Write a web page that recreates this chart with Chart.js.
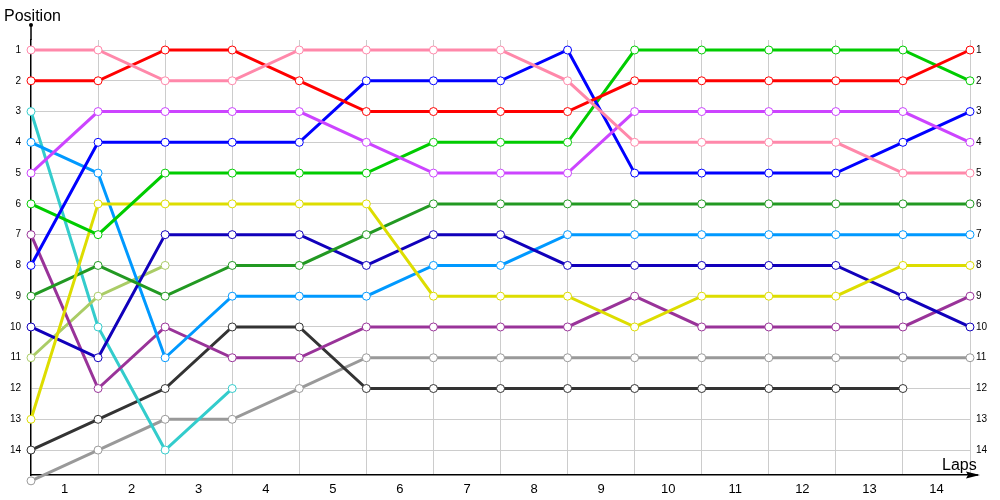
<!DOCTYPE html>
<html>
<head>
<meta charset="utf-8">
<script src="https://cdn.jsdelivr.net/npm/chart.js@4.4.1/dist/chart.umd.min.js"></script>
<style>
  body { margin: 0; background: #fff; }
</style>
</head>
<body>
<canvas id="lapChart" width="1000" height="500"></canvas>
<script>
// vueltas (eje x) y etiquetas
const laps = [0, 1, 2, 3, 4, 5, 6, 7, 8, 9, 10, 11, 12, 13, 14];
const lapLabels = ['1', '2', '3', '4', '5', '6', '7', '8', '9', '10', '11', '12', '13', '14'];
const positionLabels = ['1', '2', '3', '4', '5', '6', '7', '8', '9', '10', '11', '12', '13', '14'];

// posiciones por piloto, vuelta 0..14
const pinkPos   = [1, 1, 2, 2, 1, 1, 1, 1, 2, 4, 4, 4, 4, 5, 5];
const redPos    = [2, 2, 1, 1, 2, 3, 3, 3, 3, 2, 2, 2, 2, 2, 1];
const violetPos = [5, 3, 3, 3, 3, 4, 5, 5, 5, 3, 3, 3, 3, 3, 4];
const bluePos   = [8, 4, 4, 4, 4, 2, 2, 2, 1, 5, 5, 5, 5, 4, 3];
const greenPos  = [6, 7, 5, 5, 5, 5, 4, 4, 4, 1, 1, 1, 1, 1, 2];
const yellowPos = [13, 6, 6, 6, 6, 6, 9, 9, 9, 10, 9, 9, 9, 8, 8];
const forestPos = [9, 8, 9, 8, 8, 7, 6, 6, 6, 6, 6, 6, 6, 6, 6];
const indigoPos = [10, 11, 7, 7, 7, 8, 7, 7, 8, 8, 8, 8, 8, 9, 10];
const skyPos    = [4, 5, 11, 9, 9, 9, 8, 8, 7, 7, 7, 7, 7, 7, 7];
const plumPos   = [7, 12, 10, 11, 11, 10, 10, 10, 10, 9, 10, 10, 10, 10, 9];
const olivePos  = [11, 9, 8];
const cyanPos   = [3, 10, 14, 12];
const darkPos   = [14, 13, 12, 10, 10, 12, 12, 12, 12, 12, 12, 12, 12, 12];
const grayPos   = [15, 14, 13, 13, 12, 11, 11, 11, 11, 11, 11, 11, 11, 11, 11];

const series = [
    { data: pinkPos,   color: '#FF88AA' },
    { data: redPos,    color: '#FF0000' },
    { data: violetPos, color: '#CC44FF' },
    { data: bluePos,   color: '#0000FF' },
    { data: greenPos,  color: '#00CC00' },
    { data: yellowPos, color: '#DDDD00' },
    { data: forestPos, color: '#229922' },
    { data: indigoPos, color: '#1100BB' },
    { data: skyPos,    color: '#0099FF' },
    { data: plumPos,   color: '#993399' },
    { data: olivePos,  color: '#AACC66' },
    { data: cyanPos,   color: '#33CCCC' },
    { data: darkPos,   color: '#333333' },
    { data: grayPos,   color: '#999999' }
];

const fontFamily = '"Liberation Sans", Arial, sans-serif';

// flechas, puntos de los ejes y textos "Position" / "Laps"
const axisDecor = {
    id: 'axisDecor',
    afterDraw(chart) {
        const { ctx, chartArea } = chart;
        const { left, right, top, bottom } = chartArea;
        ctx.save();
        ctx.strokeStyle = '#000';
        ctx.fillStyle = '#000';
        ctx.lineWidth = 1.5;
        ctx.beginPath();
        ctx.moveTo(left, top);
        ctx.lineTo(left, 25);
        ctx.moveTo(right, bottom);
        ctx.lineTo(978, bottom);
        ctx.stroke();
        ctx.beginPath();
        ctx.arc(left, 25, 2, 0, Math.PI * 2);
        ctx.fill();
        ctx.beginPath();
        ctx.moveTo(980, bottom);
        ctx.lineTo(966, bottom - 3.5);
        ctx.lineTo(968, bottom);
        ctx.lineTo(966, bottom + 3.5);
        ctx.closePath();
        ctx.fill();
        ctx.font = '16px ' + fontFamily;
        ctx.textBaseline = 'alphabetic';
        ctx.fillText('Position', 4, 21);
        ctx.fillText('Laps', 942, 470);
        ctx.restore();
    }
};

const yTicks = scale => { scale.ticks = positionLabels.map((l, i) => ({ value: i + 1 })); };

new Chart(document.getElementById('lapChart'), {
    type: 'line',
    data: {
        datasets: series.map(s => ({
            data: s.data.map((p, i) => ({ x: laps[i], y: p })),
            borderColor: s.color,
            borderWidth: 3,
            pointRadius: 4,
            pointHoverRadius: 7, // margen para que el punto en la posición 15 se dibuje
            pointBorderWidth: 1,
            pointBackgroundColor: '#fff',
            pointBorderColor: s.color,
            tension: 0,
            clip: false
        }))
    },
    options: {
        responsive: false,
        animation: false,
        events: [],
        layout: { padding: { top: 40, left: 0, right: 0, bottom: 0 } },
        plugins: { legend: { display: false }, tooltip: { enabled: false } },
        scales: {
            x: {
                type: 'linear',
                min: 0,
                max: 14,
                afterBuildTicks: scale => { scale.ticks = lapLabels.map((l, i) => ({ value: i + 1 })); },
                afterFit: scale => { scale.height = 25; },
                grid: { color: '#cccccc', drawTicks: false },
                border: { color: '#000', width: 1.5 },
                ticks: {
                    callback: v => lapLabels[v - 1],
                    labelOffset: -33.5,
                    autoSkip: false,
                    maxRotation: 0,
                    padding: 7,
                    color: '#000',
                    font: { family: fontFamily, size: 13 }
                }
            },
            y: {
                type: 'linear',
                reverse: true,
                min: 0.675,
                max: 14.81,
                afterBuildTicks: yTicks,
                afterFit: scale => { scale.width = 31; },
                grid: { color: '#cccccc', drawTicks: false },
                border: { color: '#000', width: 1.5 },
                ticks: {
                    callback: v => positionLabels[v - 1],
                    autoSkip: false,
                    padding: 10,
                    color: '#000',
                    font: { family: fontFamily, size: 10 }
                }
            },
            y2: {
                type: 'linear',
                position: 'right',
                reverse: true,
                min: 0.675,
                max: 14.81,
                afterBuildTicks: yTicks,
                afterFit: scale => { scale.width = 30; },
                grid: { display: false, drawTicks: false },
                border: { display: false },
                ticks: {
                    callback: v => positionLabels[v - 1],
                    autoSkip: false,
                    padding: 6,
                    color: '#000',
                    font: { family: fontFamily, size: 10 }
                }
            }
        }
    },
    plugins: [axisDecor]
});
</script>
</body>
</html>
